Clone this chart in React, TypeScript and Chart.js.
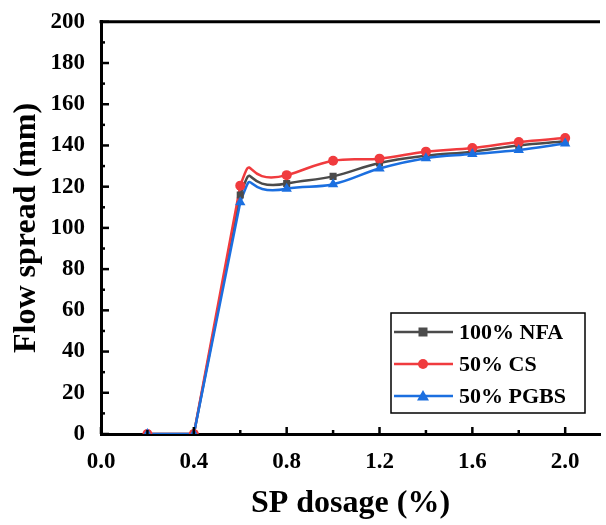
import React, { useEffect, useRef } from "react";
import { Chart, registerables } from "chart.js";

Chart.register(...registerables);

const dosage = [0.2, 0.4, 0.6, 0.8, 1.0, 1.2, 1.4, 1.6, 1.8, 2.0];
const nfa = [0, 0, 116, 121.5, 125, 131.5, 135, 137, 140, 142];
const cs = [0, 0, 120.5, 125.6, 132.6, 133.6, 137, 138.8, 141.7, 143.6];
const pgbs = [0, 0, 112.5, 119, 121.2, 128.8, 133.8, 135.8, 137.8, 141];

const seriesNames = ["100% NFA", "50% CS", "50% PGBS"];
const seriesColors = ["#4b4b4b", "#f03b3e", "#1b6fe0"];
const seriesMarkers = ["rect", "circle", "triangle"];

const xTicks = [0, 0.4, 0.8, 1.2, 1.6, 2.0];
const yTicks = [0, 20, 40, 60, 80, 100, 120, 140, 160, 180, 200];

// index of the point where the straight rise ends (0.6) and where the peak curve ends (0.8)
const riseEnd = 2;
const peakEnd = 3;

const SERIF = "'Liberation Serif', 'Times New Roman', serif";
const HIDDEN = "rgba(0,0,0,0)";

function drawMarker(ctx: CanvasRenderingContext2D, kind: string, x: number, y: number, color: string) {
  ctx.save();
  ctx.fillStyle = color;
  ctx.beginPath();
  if (kind === "rect") {
    ctx.rect(x - 4.5, y - 4.5, 9, 9);
  } else if (kind === "circle") {
    ctx.arc(x, y, 5, 0, Math.PI * 2);
  } else {
    ctx.moveTo(x, y - 6);
    ctx.lineTo(x + 6, y + 4.5);
    ctx.lineTo(x - 6, y + 4.5);
    ctx.closePath();
  }
  ctx.fill();
  ctx.restore();
}

const framePlugin = {
  id: "framePlugin",
  afterDraw(chart: any) {
    const ctx: CanvasRenderingContext2D = chart.ctx;
    const { left, right, top, bottom } = chart.chartArea;
    const xs = chart.scales.x;
    const ys = chart.scales.y;
    ctx.save();
    ctx.strokeStyle = "#000";
    ctx.lineWidth = 3;
    ctx.beginPath();
    ctx.moveTo(left - 1.5, top);
    ctx.lineTo(right, top);
    ctx.stroke();
    ctx.lineWidth = 2.5;
    for (let i = 0; i * 0.2 <= xs.max + 1e-9; i++) {
      const px = xs.getPixelForValue(i * 0.2);
      const len = i % 2 === 0 ? 7 : 4;
      ctx.beginPath();
      ctx.moveTo(px, bottom);
      ctx.lineTo(px, bottom - len);
      ctx.stroke();
    }
    for (let v = 0; v <= 200; v += 10) {
      const py = ys.getPixelForValue(v);
      const len = v % 20 === 0 ? 8 : 4;
      ctx.beginPath();
      ctx.moveTo(left, py);
      ctx.lineTo(left + len, py);
      ctx.stroke();
    }
    const bx = 391, by = 313, bw = 194, bh = 100;
    ctx.fillStyle = "#fff";
    ctx.fillRect(bx, by, bw, bh);
    ctx.lineWidth = 1.5;
    ctx.strokeStyle = "#000";
    ctx.strokeRect(bx, by, bw, bh);
    const rows = [332, 364, 396];
    for (let i = 0; i < 3; i++) {
      const y = rows[i];
      ctx.strokeStyle = seriesColors[i];
      ctx.lineWidth = 2.5;
      ctx.beginPath();
      ctx.moveTo(394, y);
      ctx.lineTo(453, y);
      ctx.stroke();
      drawMarker(ctx, seriesMarkers[i], 423, y, seriesColors[i]);
      ctx.fillStyle = "#000";
      ctx.font = `bold 22px ${SERIF}`;
      ctx.textBaseline = "middle";
      ctx.textAlign = "left";
      ctx.fillText(seriesNames[i], 459, y + 1);
    }
    ctx.restore();
  },
};

export default function App() {
  const ref = useRef<HTMLCanvasElement | null>(null);

  useEffect(() => {
    document.body.style.margin = "0";
    const canvas = ref.current;
    if (!canvas) return;
    const series = [nfa, cs, pgbs];
    const pts = (vals: number[]) => dosage.map((d, j) => ({ x: d, y: vals[j] }));
    // main curve with markers, drawn from 0.8 onwards
    const mainSets = series.map((vals, i) => ({
      label: seriesNames[i],
      data: pts(vals),
      borderColor: seriesColors[i],
      backgroundColor: seriesColors[i],
      borderWidth: 2.5,
      pointStyle: seriesMarkers[i] as any,
      pointRadius: seriesMarkers[i] === "triangle" ? 6 : 5,
      pointBorderWidth: 0,
      tension: 0.4,
      segment: {
        borderColor: (c: any) => (c.p0DataIndex < peakEnd ? HIDDEN : undefined),
      },
      order: 3 - i,
    }));
    // rounded overshoot between 0.6 and 0.8
    const peakSets = series.map((vals, i) => ({
      label: seriesNames[i] + " peak",
      data: pts(vals).slice(riseEnd - 1, peakEnd + 2),
      borderColor: seriesColors[i],
      borderWidth: 2.5,
      pointRadius: 0,
      tension: 1,
      segment: {
        borderColor: (c: any) => (c.p0DataIndex === 1 ? undefined : HIDDEN),
      },
      order: 13 - i,
    }));
    // straight rise from 0.2 to 0.6
    const riseSets = series.map((vals, i) => ({
      label: seriesNames[i] + " rise",
      data: pts(vals).slice(0, riseEnd + 1),
      borderColor: seriesColors[i],
      borderWidth: 2.5,
      pointRadius: 0,
      tension: 0,
      order: 23 - i,
    }));
    const chart = new Chart(canvas, {
      type: "line",
      data: { datasets: [...mainSets, ...peakSets, ...riseSets] },
      options: {
        responsive: false,
        animation: false,
        events: [],
        layout: { padding: { left: 0, top: 20, right: 0, bottom: 0 } },
        plugins: {
          legend: { display: false },
          tooltip: { enabled: false },
        },
        scales: {
          x: {
            type: "linear",
            min: 0,
            max: 2.15,
            afterBuildTicks: (s: any) => {
              s.ticks = xTicks.map((v) => ({ value: v }));
            },
            afterFit: (s: any) => {
              s.height = 91;
            },
            grid: { display: false },
            border: { display: true, color: "#000", width: 3 },
            ticks: {
              color: "#000",
              padding: 6,
              maxRotation: 0,
              autoSkip: false,
              font: { family: SERIF, size: 23, weight: "bold" },
              callback: (v: any) => Number(v).toFixed(1),
            },
            title: {
              display: true,
              text: "SP dosage (%)",
              color: "#000",
              font: { family: SERIF, size: 32, weight: "bold" },
              padding: { top: 4, bottom: 2 },
            },
          },
          y: {
            type: "linear",
            min: 0,
            max: 200,
            afterBuildTicks: (s: any) => {
              s.ticks = yTicks.map((v) => ({ value: v }));
            },
            afterFit: (s: any) => {
              s.width = 101;
            },
            grid: { display: false },
            border: { display: true, color: "#000", width: 3 },
            ticks: {
              color: "#000",
              padding: 8,
              autoSkip: false,
              font: { family: SERIF, size: 23, weight: "bold" },
            },
            title: {
              display: true,
              text: "Flow spread (mm)",
              color: "#000",
              font: { family: SERIF, size: 32, weight: "bold" },
              padding: { top: 8, bottom: 0 },
            },
          },
        },
      },
      plugins: [framePlugin],
    });
    return () => chart.destroy();
  }, []);

  return <canvas ref={ref} width={606} height={525} style={{ display: "block" }} />;
}
